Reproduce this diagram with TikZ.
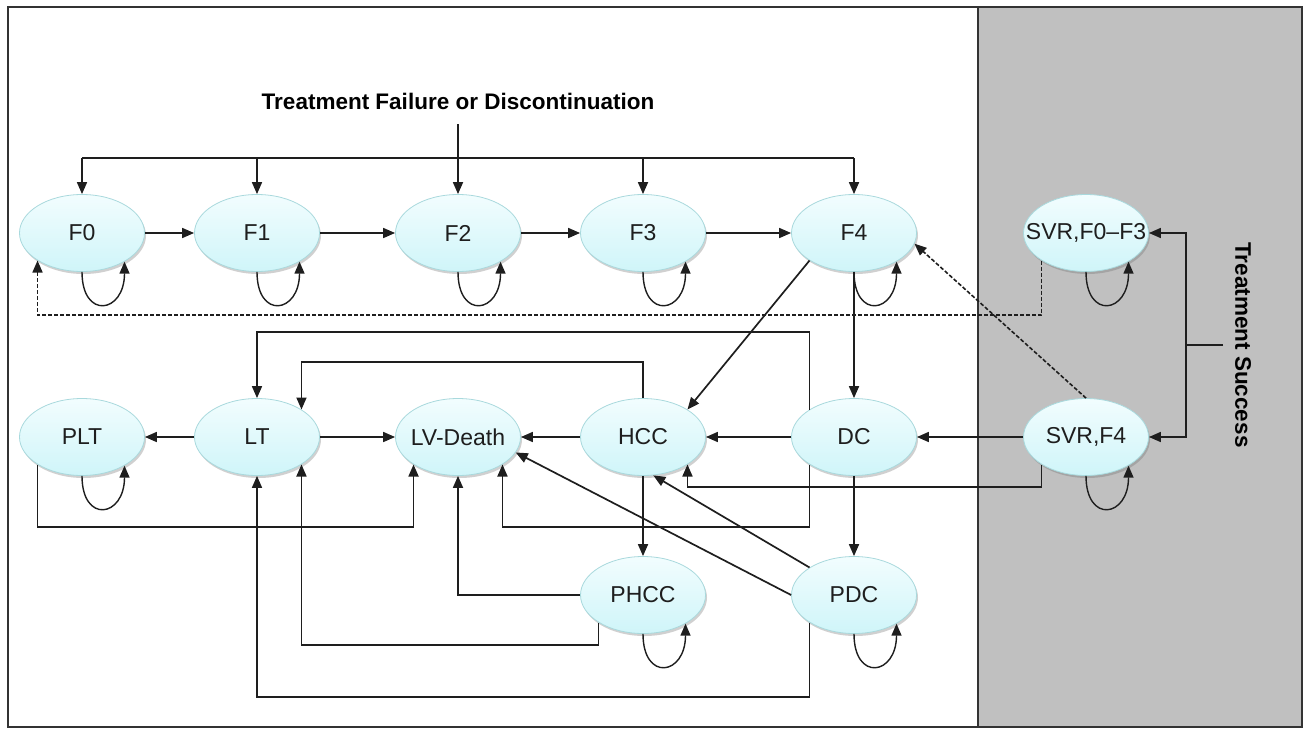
\documentclass[tikz,border=0pt]{standalone}
\usepackage{fontspec}
\setmainfont{Liberation Sans}
\usetikzlibrary{arrows.meta,shadows,shapes.geometric}
\definecolor{nodeborder}{HTML}{A9D9DD}
\definecolor{nodetop}{HTML}{F2FDFE}
\definecolor{nodebot}{HTML}{CFF5F9}
\definecolor{panel}{HTML}{C0C0C0}
\definecolor{ink}{HTML}{1E1E1E}
\begin{document}
\begin{tikzpicture}[x=1pt,y=-1pt,
  state/.style={ellipse, minimum width=125pt, minimum height=77pt, inner sep=0pt,
    draw=nodeborder, line width=0.8pt, top color=nodetop, bottom color=nodebot,
    drop shadow={shadow xshift=1.5pt, shadow yshift=-2.5pt, opacity=0.3, fill=black!60},
    font=\fontsize{23}{27}\selectfont, text=ink},
  conn/.style={line width=1.7pt, draw=ink},
  arr/.style={conn, -{Triangle[length=12pt,width=10pt]}},
  dash line/.style={line width=1.6pt, dash pattern=on 4pt off 2pt},
  title/.style={font=\fontsize{22.5}{26}\selectfont\bfseries, text=black},
  frame/.style={line width=1.5pt, draw=black!80}
]
\useasboundingbox (0,0) rectangle (1305,728);
% panels
\fill[white] (8,7) rectangle (1302,727);
\fill[panel] (978,7) rectangle (1302,727);
\draw[frame] (8,7) rectangle (1302,727);
\draw[frame, line width=2pt] (978,7) -- (978,727);

% nodes
\node[state] (F0) at (82,233) {\makebox[0pt]{F0}};
\node[state] (F1) at (257,233) {\makebox[0pt]{F1}};
\node[state] (F2) at (458,233) {\makebox[0pt]{F2}};
\node[state] (F3) at (643,233) {\makebox[0pt]{F3}};
\node[state] (F4) at (854,233) {\makebox[0pt]{F4}};
\node[state] (S03) at (1086,233) {\makebox[0pt]{SVR,F0--F3}};
\node[state] (PLT) at (82,437) {\makebox[0pt]{PLT}};
\node[state] (LT) at (257,437) {\makebox[0pt]{LT}};
\node[state] (LVD) at (458,437) {\makebox[0pt]{LV-Death}};
\node[state] (HCC) at (643,437) {\makebox[0pt]{HCC}};
\node[state] (DC) at (854,437) {\makebox[0pt]{DC}};
\node[state] (SF4) at (1086,437) {\makebox[0pt]{SVR,F4}};
\node[state] (PHCC) at (643,595) {\makebox[0pt]{PHCC}};
\node[state] (PDC) at (854,595) {\makebox[0pt]{PDC}};

\node[title] (T1) at (458,101) {Treatment Failure or Discontinuation};
\node[title, rotate=-90] (TS) at (1243,345) {Treatment Success};

% helper coordinates
\coordinate (bar) at (0,158);
\coordinate (tfl) at (458,124);
\coordinate (yd) at (0,315);
\coordinate (y332) at (0,332);
\coordinate (y362) at (0,362);
\coordinate (y487) at (0,487);
\coordinate (y527) at (0,527);
\coordinate (y645) at (0,645);
\coordinate (y697) at (0,697);
\coordinate (tsl) at (1223,345);
\coordinate (tsj) at (1186,345);

% treatment failure distribution
\draw[conn] (F0.north |- bar) -- (F4.north |- bar);
\draw[arr] (tfl) -- (F2.north);
\foreach \n in {F0,F1,F3,F4} \draw[arr] (\n.north |- bar) -- (\n.north);

% fibrosis progression
\draw[arr] (F0) -- (F1);
\draw[arr] (F1) -- (F2);
\draw[arr] (F2) -- (F3);
\draw[arr] (F3) -- (F4);
\draw[arr] (F4.south west) -- (HCC.north east);
\draw[arr] (F4) -- (DC);
\draw[arr, dash line] (SF4.north) -- (F4.-10);
\draw[arr, dash line] (S03.south west) |- (F0.south west |- yd) -- (F0.south west);

% treatment success
\draw[conn] (tsl) -- (tsj);
\draw[arr] (tsj) |- (S03.east);
\draw[arr] (tsj) |- (SF4.east);

% row two
\draw[arr] (SF4) -- (DC);
\draw[arr] (DC) -- (HCC);
\draw[arr] (HCC) -- (LVD);
\draw[arr] (LT) -- (LVD);
\draw[arr] (LT) -- (PLT);
\draw[arr] (SF4.south west) |- (HCC.south east |- y487) -- (HCC.south east);
\draw[arr] (PLT.south west) |- (LVD.south west |- y527) -- (LVD.south west);
\draw[arr] (DC.north west) |- (LT.north |- y332) -- (LT.north);
\draw[arr] (DC.south west) |- (LVD.south east |- y527) -- (LVD.south east);
\draw[arr] (HCC.north) |- (LT.north east |- y362) -- (LT.north east);
\draw[arr] (HCC) -- (PHCC);
\draw[arr] (DC) -- (PDC);
\draw[arr] (PDC.north west) -- (HCC.-75);
\draw[arr] (PDC.west) -- (LVD.-15);
\draw[arr] (PHCC.west) -| (LVD.south);
\draw[arr] (PHCC.south west) |- (LT.south east |- y645) -- (LT.south east);
\draw[arr] (PDC.south west) |- (LT.south |- y697) -- (LT.south);

% self loops
\foreach \n in {F0,F1,F2,F3,F4,S03,PLT,SF4,PHCC,PDC}
  \draw[arr, line width=1.4pt] (\n.south) .. controls +(0,48) and +(0,52) .. (\n.-34);
\end{tikzpicture}
\end{document}
